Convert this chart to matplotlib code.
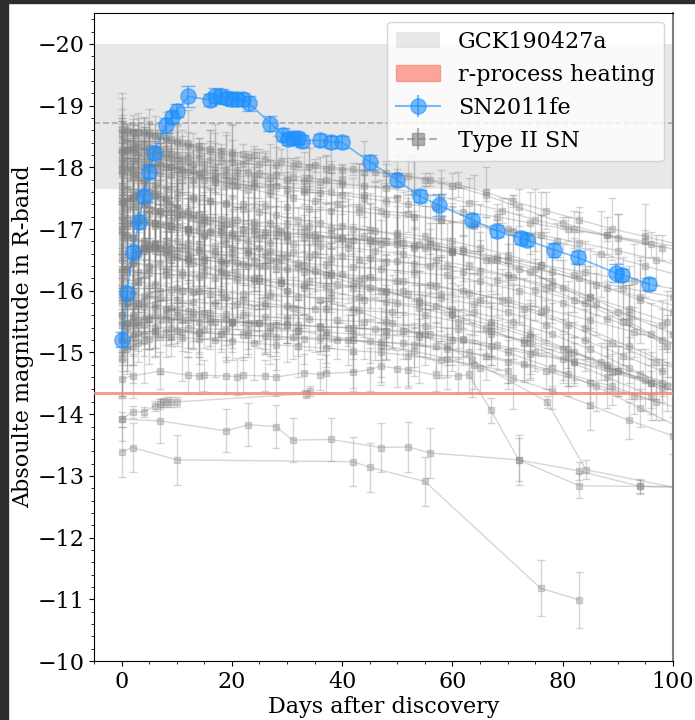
import matplotlib
matplotlib.use("Agg")
import matplotlib.pyplot as plt
from matplotlib.patches import Patch, Rectangle
from matplotlib.ticker import MultipleLocator

plt.rcParams["font.family"] = ["DejaVu Serif"]

# ---------------- SN2011fe R-band light curve ----------------
fe_day = [0.05, 1.0, 2.0, 3.1, 4.0, 5.0, 5.9, 8.05, 9.1, 10.05, 12.05,
          16.1, 17.0, 18.1, 19.1, 20.1, 21.0, 22.1, 23.1,
          27.0, 29.2, 30.2, 31.0, 32.0, 32.7, 36.0, 38.0, 39.9,
          45.1, 49.9, 54.1, 57.5, 63.6, 68.1, 72.5, 73.6, 78.5, 82.7,
          89.6, 90.7, 95.7]
fe_mag = [-15.21, -15.96, -16.62, -17.12, -17.54, -17.93, -18.24, -18.68, -18.82, -18.92, -19.15,
          -19.09, -19.16, -19.15, -19.12, -19.10, -19.10, -19.10, -19.04,
          -18.71, -18.53, -18.46, -18.48, -18.48, -18.43, -18.44, -18.41, -18.41,
          -18.08, -17.80, -17.53, -17.39, -17.15, -16.97, -16.85, -16.82, -16.66, -16.54,
          -16.29, -16.26, -16.11]
fe_err = [0.12, 0.1, 0.1, 0.1, 0.1, 0.1, 0.1, 0.12, 0.1, 0.1, 0.17,
          0.1, 0.12, 0.12, 0.1, 0.1, 0.1, 0.1, 0.12,
          0.12, 0.1, 0.1, 0.1, 0.1, 0.1, 0.1, 0.1, 0.1,
          0.12, 0.1, 0.1, 0.18, 0.1, 0.1, 0.1, 0.1, 0.12, 0.1,
          0.15, 0.1, 0.1]

# ---------------- Type II SN light curves (R band) ----------------
u1_day = [0, 1, 2, 3, 4, 5, 6, 8, 10, 12, 14, 16, 18, 20, 23, 26, 29, 32, 35, 38, 42, 46, 50, 55, 60, 66, 72, 80, 88, 96, 104]
u1_mag = [-18.62, -18.6, -18.58, -18.57, -18.55, -18.52, -18.5, -18.45, -18.4, -18.35, -18.3, -18.26, -18.22, -18.2,
          -18.17, -18.13, -18.1, -18.06, -18.03, -18.0, -17.97, -17.93, -17.88, -17.8, -17.7, -17.55, -17.35, -17.1,
          -16.9, -16.75, -16.6]
u1_err = [0.5, 0.1, 0.1, 0.15, 0.1, 0.1, 0.1, 0.1, 0.3, 0.1, 0.1, 0.35, 0.1, 0.1, 0.1, 0.1, 0.2, 0.1, 0.1, 0.1,
          0.1, 0.15, 0.1, 0.1, 0.2, 0.1, 0.3, 0.1, 0.1, 0.2, 0.1]

u2_day = [0, 1.5, 3, 5, 7, 9, 11, 13, 15, 17, 19, 21, 24, 27, 30, 33, 36, 40, 44, 48, 52, 57, 62, 68, 74, 81, 88, 95, 102]
u2_mag = [-18.05, -18.0, -17.98, -17.95, -17.9, -17.88, -17.85, -17.8, -17.8, -17.76, -17.75, -17.72, -17.7, -17.68,
          -17.65, -17.6, -17.58, -17.55, -17.5, -17.45, -17.4, -17.35, -17.28, -17.2, -17.1, -17.0, -16.9, -16.8, -16.7]
u2_err = [0.6, 0.2, 0.4, 0.1, 0.5, 0.2, 0.3, 0.1, 0.6, 0.2, 0.1, 0.4, 0.2, 0.1, 0.5, 0.2, 0.1, 0.3, 0.2, 0.6,
          0.1, 0.2, 0.4, 0.1, 0.5, 0.2, 0.3, 0.6, 0.2]

u3_day = [0, 2, 4, 6, 8, 10, 13, 16, 19, 22, 25, 28, 32, 36, 40, 45, 50, 56, 62, 70, 78, 86, 94, 103]
u3_mag = [-17.9, -17.85, -17.8, -17.72, -17.65, -17.6, -17.52, -17.45, -17.4, -17.33, -17.28, -17.22, -17.15, -17.1,
          -17.05, -16.98, -16.9, -16.8, -16.68, -16.5, -16.3, -16.1, -15.9, -15.7]
u3_err = [0.8, 0.3, 0.5, 0.2, 0.7, 0.3, 0.5, 0.2, 0.6, 0.3, 0.4, 0.7, 0.2, 0.5, 0.3, 0.6, 0.3, 0.2, 0.7, 0.4,
          0.3, 0.5, 0.6, 0.3]

u4_day = [0, 1, 2, 3, 5, 7, 9, 11, 14, 17, 20, 23, 27, 31, 35, 39, 43, 47, 52, 58, 64, 71, 79, 87, 95, 103]
u4_mag = [-18.3, -18.28, -18.25, -18.2, -18.15, -18.08, -18.0, -17.95, -17.87, -17.8, -17.72, -17.65, -17.58, -17.5,
          -17.45, -17.4, -17.35, -17.3, -17.25, -17.15, -17.05, -16.95, -16.8, -16.6, -16.4, -16.2]
u4_err = [0.9, 0.4, 0.6, 0.3, 0.8, 0.5, 0.7, 0.3, 0.6, 0.9, 0.4, 0.5, 0.8, 0.3, 0.6, 0.4, 0.7, 0.5, 0.3, 0.8,
          0.4, 0.6, 0.3, 0.7, 0.5, 0.4]

s4_day = [0, 2, 4, 6, 8, 10, 12, 14, 17, 20, 24, 28, 33, 38, 44, 50]
s4_mag = [-17.95, -17.98, -18.0, -18.02, -18.0, -17.97, -17.93, -17.9, -17.85, -17.8, -17.75, -17.7, -17.65,
          -17.6, -17.55, -17.5]
s4_err = [1.0, 0.5, 0.8, 0.4, 0.9, 0.6, 1.0, 0.5, 0.7, 0.9, 0.4, 0.8, 0.6, 0.9, 0.5, 0.7]

m1_day = [0, 2, 4, 7, 10, 14, 18, 22, 26, 30, 35, 40, 45, 50, 55, 60, 66, 72, 78, 85, 92, 100]
m1_mag = [-17.5, -17.45, -17.4, -17.3, -17.2, -17.1, -17.05, -17.0, -16.95, -16.92, -16.9, -16.85, -16.8, -16.75,
          -16.7, -16.62, -16.5, -16.35, -16.15, -15.9, -15.6, -15.3]
m1_err = [1.0, 0.6, 0.9, 0.5, 0.8, 1.1, 0.6, 0.9, 0.5, 1.0, 0.7, 0.9, 0.6, 0.8, 1.0, 0.5, 0.7, 0.9, 0.6, 0.8, 0.5, 0.7]

m2_day = [0, 3, 6, 9, 12, 15, 19, 23, 27, 31, 36, 41, 46, 51, 57, 63, 70, 77, 84, 91, 99]
m2_mag = [-17.2, -17.15, -17.05, -17.0, -16.95, -16.9, -16.85, -16.8, -16.78, -16.75, -16.72, -16.7, -16.65, -16.6,
          -16.5, -16.4, -16.25, -16.05, -15.8, -15.5, -15.1]
m2_err = [1.2, 0.7, 1.0, 0.6, 0.9, 0.7, 1.1, 0.6, 0.8, 1.0, 0.6, 0.9, 0.7, 1.0, 0.6, 0.8, 0.5, 0.9, 0.6, 0.7, 0.5]

m3_day = [0, 1, 2, 4, 6, 8, 11, 14, 17, 20, 24, 28, 32, 37, 42, 47, 53, 59, 65, 72, 80, 88, 96, 104]
m3_mag = [-16.9, -16.88, -16.85, -16.8, -16.75, -16.72, -16.7, -16.65, -16.6, -16.55, -16.5, -16.48, -16.45, -16.42,
          -16.38, -16.35, -16.3, -16.25, -16.15, -16.0, -15.8, -15.55, -15.3, -15.0]
m3_err = [1.0, 0.5, 0.8, 0.6, 1.0, 0.5, 0.9, 0.6, 0.8, 1.0, 0.5, 0.9, 0.6, 1.0, 0.7, 0.5, 0.9, 0.6, 0.8, 0.5, 0.7,
          0.6, 0.5, 0.4]

m4_day = [0, 2, 5, 8, 11, 15, 19, 24, 29, 34, 39, 45, 51, 58, 65, 73, 81, 89, 97, 105]
m4_mag = [-16.5, -16.45, -16.4, -16.35, -16.3, -16.28, -16.25, -16.2, -16.18, -16.15, -16.1, -16.05, -16.0, -15.95,
          -15.85, -15.7, -15.45, -15.15, -14.85, -14.6]
m4_err = [0.9, 0.6, 0.9, 0.5, 0.8, 0.6, 0.9, 0.5, 0.8, 0.6, 0.9, 0.5, 0.7, 0.6, 0.8, 0.5, 0.7, 0.5, 0.6, 0.4]

m5_day = [0, 3, 6, 10, 14, 18, 22, 27, 32, 38, 44, 50, 57, 64, 71, 78, 85, 92, 99]
m5_mag = [-16.2, -16.15, -16.1, -16.05, -16.0, -15.98, -15.95, -15.92, -15.9, -15.88, -15.85, -15.8, -15.75, -15.65,
          -15.5, -15.3, -15.05, -14.75, -14.45]
m5_err = [0.8, 0.5, 0.7, 0.5, 0.8, 0.6, 0.5, 0.7, 0.5, 0.8, 0.6, 0.5, 0.7, 0.5, 0.6, 0.5, 0.7, 0.5, 0.4]

m6_day = [0, 1, 3, 5, 8, 11, 15, 19, 24, 29, 34, 40, 46, 53, 60, 68, 76, 84, 93, 102]
m6_mag = [-17.7, -17.65, -17.55, -17.45, -17.35, -17.25, -17.15, -17.08, -17.0, -16.95, -16.9, -16.85, -16.8, -16.72,
          -16.65, -16.55, -16.42, -16.3, -16.15, -16.0]
m6_err = [1.1, 0.5, 0.9, 0.6, 1.0, 0.5, 0.8, 0.6, 1.0, 0.5, 0.8, 0.6, 0.9, 0.5, 0.7, 0.6, 0.8, 0.5, 0.6, 0.5]

m7_day = [0, 2, 4, 7, 10, 13, 17, 21, 26, 31, 37, 43, 49, 55, 61, 67, 74, 81, 88, 95, 103]
m7_mag = [-16.0, -15.95, -15.92, -15.88, -15.85, -15.82, -15.8, -15.78, -15.75, -15.72, -15.7, -15.68, -15.65, -15.6,
          -15.5, -15.35, -15.15, -14.95, -14.75, -14.55, -14.3]
m7_err = [0.7, 0.5, 0.6, 0.4, 0.7, 0.5, 0.6, 0.4, 0.7, 0.5, 0.6, 0.4, 0.6, 0.5, 0.6, 0.4, 0.6, 0.5, 0.4, 0.5, 0.4]

m8_day = [0, 1, 3, 6, 9, 12, 16, 20, 25, 30, 35, 41, 47, 53, 60, 67, 75, 83, 91, 100]
m8_mag = [-17.0, -17.05, -17.1, -17.1, -17.05, -17.0, -16.95, -16.9, -16.85, -16.82, -16.8, -16.78, -16.75, -16.7,
          -16.62, -16.5, -16.35, -16.2, -16.05, -15.9]
m8_err = [0.9, 0.5, 0.8, 0.4, 0.7, 0.5, 0.9, 0.4, 0.6, 0.8, 0.5, 0.7, 0.4, 0.6, 0.8, 0.5, 0.6, 0.4, 0.5, 0.6]

m9_day = [0, 2, 4, 6, 9, 12, 15, 19, 23, 28, 33, 38, 44, 50, 56, 62, 69, 76, 84, 92, 101]
m9_mag = [-16.7, -16.72, -16.7, -16.65, -16.6, -16.55, -16.5, -16.45, -16.4, -16.35, -16.3, -16.25, -16.2, -16.15,
          -16.1, -16.0, -15.85, -15.65, -15.4, -15.1, -14.75]
m9_err = [0.8, 0.6, 0.9, 0.5, 0.8, 0.5, 0.7, 0.6, 0.9, 0.5, 0.7, 0.6, 0.8, 0.5, 0.7, 0.6, 0.5, 0.7, 0.5, 0.6, 0.4]

a1_day = [0, 1, 2, 3, 4, 5, 6, 7, 8, 9, 10, 12, 14, 16, 18, 20, 22, 25, 28, 31, 34, 37, 40, 44, 48, 52, 56,
          61, 66, 71, 77, 83, 89, 95, 101]
a1_mag = [-18.45, -18.43, -18.4, -18.38, -18.36, -18.33, -18.3, -18.28, -18.25, -18.22, -18.2, -18.17, -18.14,
          -18.12, -18.1, -18.08, -18.06, -18.05, -18.03, -18.02, -18.0, -17.98, -17.96, -17.93, -17.9, -17.86, -17.8,
          -17.72, -17.6, -17.45, -17.3, -17.15, -17.0, -16.88, -16.75]
a1_err = [0.3, 0.2, 0.1, 0.5, 0.2, 0.1, 0.4, 0.2, 0.3, 0.1, 0.5, 0.2, 0.1, 0.3, 0.2, 0.6, 0.1, 0.2, 0.3, 0.1,
          0.4, 0.2, 0.1, 0.5, 0.2, 0.3, 0.1, 0.2, 0.4, 0.1, 0.3, 0.2, 0.5, 0.1, 0.2]

a2_day = [0, 1, 2, 3, 4, 5, 7, 9, 11, 13, 15, 17, 19, 21, 24, 27, 30, 33, 36, 40, 44, 48, 53, 58, 63,
          69, 75, 82, 90, 98]
a2_mag = [-18.15, -18.12, -18.1, -18.1, -18.08, -18.05, -18.02, -18.0, -17.97, -17.95, -17.92, -17.9, -17.88,
          -17.86, -17.84, -17.82, -17.8, -17.78, -17.76, -17.73, -17.7, -17.66, -17.6, -17.52, -17.42,
          -17.3, -17.15, -17.0, -16.85, -16.7]
a2_err = [0.6, 0.3, 0.5, 0.2, 0.4, 0.7, 0.3, 0.5, 0.2, 0.6, 0.4, 0.3, 0.7, 0.2, 0.5, 0.3, 0.6, 0.2, 0.4, 0.3,
          0.5, 0.2, 0.6, 0.3, 0.4, 0.2, 0.5, 0.3, 0.4, 0.2]

a3_day = [0, 1, 2, 3, 5, 7, 9, 11, 13, 15, 18, 21, 24, 27, 30, 34, 38, 42, 46, 50, 55, 60, 65, 70, 76,
          82, 88, 94, 100]
a3_mag = [-17.3, -17.32, -17.35, -17.35, -17.33, -17.3, -17.27, -17.25, -17.22, -17.2, -17.17, -17.15, -17.12,
          -17.1, -17.08, -17.05, -17.02, -17.0, -16.97, -16.93, -16.88, -16.8, -16.7, -16.58, -16.42,
          -16.25, -16.05, -15.85, -15.65]
a3_err = [1.0, 0.5, 0.8, 0.4, 0.9, 0.6, 1.0, 0.5, 0.7, 0.9, 0.4, 0.8, 0.6, 1.0, 0.5, 0.7, 0.9, 0.4, 0.8, 0.6,
          0.5, 0.9, 0.7, 0.4, 0.8, 0.6, 0.5, 0.7, 0.4]

a4_day = [0, 1, 2, 4, 6, 8, 10, 12, 15, 18, 21, 25, 29, 33, 38, 43, 48, 54, 60, 67, 74, 82, 90, 98]
a4_mag = [-16.95, -16.9, -16.85, -16.78, -16.7, -16.62, -16.55, -16.48, -16.4, -16.33, -16.27, -16.2, -16.12,
          -16.05, -15.98, -15.9, -15.82, -15.72, -15.6, -15.45, -15.25, -15.0, -14.7, -14.4]
a4_err = [0.9, 0.6, 0.8, 0.5, 1.0, 0.6, 0.8, 0.5, 0.9, 0.6, 0.7, 0.5, 0.9, 0.6, 0.8, 0.5, 0.7, 0.6, 0.8, 0.5,
          0.6, 0.5, 0.4, 0.5]

a5_day = [0, 2, 3, 5, 7, 9, 12, 14, 17, 20, 23, 26, 30, 34, 38, 43, 48, 53, 59, 65, 71, 78, 85, 92, 99]
a5_mag = [-16.6, -16.62, -16.65, -16.68, -16.7, -16.7, -16.68, -16.66, -16.64, -16.62, -16.6, -16.58, -16.56,
          -16.54, -16.52, -16.5, -16.47, -16.44, -16.4, -16.32, -16.22, -16.08, -15.9, -15.7, -15.5]
a5_err = [0.8, 0.5, 0.9, 0.6, 0.7, 1.0, 0.5, 0.8, 0.6, 0.9, 0.5, 0.7, 1.0, 0.6, 0.8, 0.5, 0.9, 0.6, 0.7, 0.5,
          0.8, 0.6, 0.5, 0.7, 0.5]

a6_day = [0, 1, 3, 5, 8, 11, 14, 17, 21, 25, 29, 33, 37, 42, 47, 52, 58, 64, 70, 77, 84, 91, 98]
a6_mag = [-16.35, -16.33, -16.3, -16.28, -16.27, -16.25, -16.22, -16.2, -16.18, -16.15, -16.12, -16.1, -16.08,
          -16.05, -16.0, -15.95, -15.88, -15.78, -15.65, -15.45, -15.2, -14.95, -14.7]
a6_err = [0.7, 0.5, 0.8, 0.4, 0.7, 0.5, 0.9, 0.4, 0.6, 0.8, 0.5, 0.7, 0.4, 0.8, 0.5, 0.6, 0.7, 0.5, 0.6, 0.4,
          0.5, 0.6, 0.4]

a7_day = [0, 1, 2, 3, 4, 6, 8, 10, 13, 16, 19, 22, 26, 30, 34, 39, 44, 49, 55, 61, 67, 73, 80, 87, 94, 101]
a7_mag = [-15.8, -15.78, -15.76, -15.75, -15.74, -15.72, -15.7, -15.68, -15.66, -15.64, -15.62, -15.6, -15.58,
          -15.56, -15.54, -15.52, -15.5, -15.47, -15.43, -15.38, -15.3, -15.2, -15.05, -14.85, -14.65, -14.45]
a7_err = [0.6, 0.4, 0.5, 0.3, 0.6, 0.4, 0.5, 0.3, 0.6, 0.4, 0.5, 0.3, 0.6, 0.4, 0.5, 0.3, 0.6, 0.4, 0.5, 0.3,
          0.5, 0.4, 0.5, 0.3, 0.4, 0.3]

a8_day = [0, 1, 2, 3, 5, 7, 9, 11, 14, 17, 20, 24, 28, 32, 36, 41, 46, 51, 56, 62, 68, 75, 82, 89, 96, 103]
a8_mag = [-15.45, -15.47, -15.5, -15.52, -15.55, -15.55, -15.53, -15.52, -15.5, -15.5, -15.48, -15.47, -15.45,
          -15.44, -15.42, -15.4, -15.38, -15.35, -15.3, -15.22, -15.12, -15.0, -14.85, -14.68, -14.5, -14.3]
a8_err = [0.5, 0.3, 0.4, 0.3, 0.5, 0.3, 0.4, 0.3, 0.5, 0.3, 0.4, 0.3, 0.5, 0.3, 0.4, 0.3, 0.5, 0.3, 0.4, 0.3,
          0.4, 0.3, 0.4, 0.3, 0.4, 0.3]

a9_day = [0, 2, 4, 6, 8, 11, 14, 18, 22, 26, 31, 36, 41, 47, 53, 59, 66, 73, 81, 89, 97]
a9_mag = [-15.2, -15.25, -15.3, -15.32, -15.33, -15.33, -15.32, -15.3, -15.28, -15.27, -15.25, -15.23, -15.2,
          -15.17, -15.12, -15.05, -14.95, -14.82, -14.65, -14.45, -14.2]
a9_err = [0.4, 0.3, 0.35, 0.25, 0.4, 0.3, 0.35, 0.25, 0.4, 0.3, 0.35, 0.25, 0.4, 0.3, 0.35, 0.25, 0.4, 0.3, 0.35,
          0.3, 0.3]

a10_day = [0, 2, 4, 6, 9, 12, 15, 19, 23, 27, 32, 37, 42, 48, 54, 60, 67, 74, 81, 88, 96]
a10_mag = [-17.6, -17.5, -17.4, -17.3, -17.15, -17.0, -16.88, -16.75, -16.62, -16.5, -16.38, -16.25, -16.12,
           -15.98, -15.85, -15.7, -15.5, -15.3, -15.05, -14.8, -14.5]
a10_err = [1.0, 0.6, 0.8, 0.5, 0.9, 0.6, 0.8, 0.5, 0.9, 0.6, 0.7, 0.5, 0.8, 0.6, 0.7, 0.5, 0.6, 0.5, 0.6, 0.4, 0.5]

a11_day = [0, 1, 2, 3, 4, 5, 6, 7, 8, 9, 10, 11, 12, 14, 16, 18, 20, 22, 24]
a11_mag = [-18.55, -18.57, -18.58, -18.58, -18.57, -18.55, -18.53, -18.5, -18.47, -18.45, -18.42, -18.4, -18.37,
           -18.33, -18.3, -18.27, -18.24, -18.22, -18.2]
a11_err = [0.3, 0.15, 0.2, 0.1, 0.25, 0.15, 0.3, 0.1, 0.2, 0.15, 0.25, 0.1, 0.2, 0.15, 0.3, 0.1, 0.2, 0.15, 0.1]

a12_day = [0, 1, 2, 3, 4, 5, 6, 7, 8, 9, 10, 12, 14, 16, 18, 20, 22, 24, 26, 28, 30, 33, 36, 39, 42, 45, 48,
           51, 54, 57, 60]
a12_mag = [-17.05, -17.08, -17.1, -17.12, -17.13, -17.12, -17.1, -17.08, -17.06, -17.05, -17.03, -17.0, -16.98,
           -16.97, -16.95, -16.94, -16.93, -16.92, -16.9, -16.9, -16.88, -16.87, -16.86, -16.85, -16.83, -16.82,
           -16.8, -16.78, -16.75, -16.72, -16.68]
a12_err = [1.2, 0.6, 1.0, 0.5, 0.9, 0.7, 1.1, 0.5, 0.8, 0.6, 1.0, 0.5, 0.9, 0.7, 1.1, 0.6, 0.8, 0.5, 1.0, 0.6,
           0.9, 0.5, 0.8, 0.7, 1.0, 0.6, 0.9, 0.5, 0.8, 0.6, 0.7]

b1_day = [0, 1, 2, 3, 4, 6, 8, 10, 12, 15, 18, 21, 25, 29, 33, 38, 43, 48, 54, 60, 66, 73, 80, 88, 96]
b1_mag = [-18.0, -17.95, -17.9, -17.82, -17.75, -17.6, -17.48, -17.35, -17.25, -17.1, -16.98, -16.85, -16.7,
          -16.55, -16.42, -16.28, -16.15, -16.0, -15.82, -15.62, -15.4, -15.15, -14.9, -14.6, -14.3]
b1_err = [0.8, 0.5, 0.7, 0.4, 0.9, 0.5, 0.7, 0.4, 0.8, 0.6, 0.9, 0.5, 0.7, 0.4, 0.8, 0.5, 0.7, 0.6, 0.5, 0.7,
          0.5, 0.6, 0.4, 0.5, 0.4]

b2_day = [0, 1, 2, 3, 4, 5, 6, 8, 10, 12, 14, 17, 20, 23, 27, 31, 35, 40, 45, 50, 56, 62, 68, 75, 82, 90, 98]
b2_mag = [-16.1, -16.3, -16.45, -16.6, -16.7, -16.75, -16.78, -16.8, -16.8, -16.78, -16.75, -16.72, -16.7, -16.68,
          -16.65, -16.62, -16.6, -16.57, -16.53, -16.48, -16.4, -16.3, -16.18, -16.02, -15.85, -15.65, -15.45]
b2_err = [1.0, 0.6, 0.9, 0.5, 1.1, 0.7, 0.9, 0.5, 1.0, 0.6, 0.8, 1.0, 0.5, 0.9, 0.7, 1.0, 0.6, 0.8, 0.5, 0.9,
          0.7, 0.6, 0.8, 0.5, 0.6, 0.5, 0.4]

b3_day = [0, 2, 4, 6, 8, 10, 13, 16, 19, 22, 26, 30, 34, 38, 43, 48, 53, 58, 64, 70, 76, 83, 90, 97, 104]
b3_mag = [-17.45, -17.5, -17.52, -17.53, -17.52, -17.5, -17.48, -17.45, -17.42, -17.4, -17.37, -17.35, -17.32,
          -17.3, -17.27, -17.24, -17.2, -17.15, -17.08, -17.0, -16.9, -16.78, -16.65, -16.5, -16.35]
b3_err = [1.1, 0.6, 0.9, 0.5, 1.0, 0.6, 0.9, 0.5, 1.1, 0.7, 0.9, 0.5, 1.0, 0.6, 0.8, 0.5, 0.9, 0.6, 0.8, 0.5,
          0.7, 0.5, 0.6, 0.4, 0.5]

b4_day = [0, 1, 2, 4, 6, 9, 12, 15, 19, 23, 27, 32, 37, 42, 47, 53, 59, 65, 71, 78, 85, 92, 100]
b4_mag = [-15.9, -15.88, -15.85, -15.82, -15.78, -15.72, -15.67, -15.62, -15.55, -15.48, -15.42, -15.35, -15.28,
          -15.2, -15.12, -15.02, -14.9, -14.75, -14.58, -14.38, -14.15, -13.9, -13.65]
b4_err = [0.7, 0.5, 0.6, 0.4, 0.7, 0.5, 0.6, 0.4, 0.7, 0.5, 0.6, 0.4, 0.6, 0.5, 0.6, 0.4, 0.5, 0.4, 0.5, 0.3,
          0.4, 0.3, 0.3]

b5_day = [0, 0.5, 1, 1.5, 2, 2.5, 3, 4, 5, 6, 7, 8, 9, 10, 11, 12, 13, 15, 17, 19, 21, 23, 25, 28, 31, 34, 37, 40]
b5_mag = [-18.25, -18.27, -18.28, -18.3, -18.3, -18.31, -18.3, -18.28, -18.25, -18.22, -18.2, -18.17, -18.15,
          -18.12, -18.1, -18.08, -18.06, -18.03, -18.0, -17.97, -17.95, -17.92, -17.9, -17.88, -17.85, -17.83,
          -17.8, -17.78]
b5_err = [0.5, 0.2, 0.3, 0.15, 0.4, 0.2, 0.5, 0.15, 0.3, 0.2, 0.4, 0.15, 0.3, 0.2, 0.5, 0.15, 0.3, 0.2, 0.4, 0.15,
          0.3, 0.2, 0.4, 0.15, 0.3, 0.2, 0.4, 0.2]

b6_day = [0, 1, 2, 3, 5, 7, 9, 12, 15, 18, 22, 26, 30, 35, 40, 45, 51, 57, 63, 70, 77, 85, 93, 101]
b6_mag = [-15.6, -15.8, -16.0, -16.15, -16.35, -16.45, -16.5, -16.52, -16.5, -16.47, -16.43, -16.4, -16.36,
          -16.32, -16.27, -16.22, -16.15, -16.07, -15.97, -15.85, -15.7, -15.52, -15.33, -15.12]
b6_err = [0.9, 0.6, 0.8, 0.5, 1.0, 0.6, 0.8, 0.5, 0.9, 0.6, 0.7, 0.5, 0.9, 0.6, 0.8, 0.5, 0.7, 0.6, 0.5, 0.6,
          0.5, 0.6, 0.4, 0.4]

b7_day = [0, 1, 3, 5, 7, 10, 13, 16, 20, 24, 28, 33, 38, 44, 50, 56, 62, 68, 74, 80, 86, 92, 98]
b7_mag = [-17.15, -17.18, -17.22, -17.25, -17.25, -17.22, -17.18, -17.14, -17.1, -17.06, -17.02, -16.98, -16.93,
          -16.88, -16.82, -16.75, -16.65, -16.5, -16.3, -16.05, -15.78, -15.5, -15.2]
b7_err = [1.1, 0.6, 1.0, 0.5, 0.9, 0.7, 1.1, 0.5, 0.8, 1.0, 0.6, 0.9, 0.5, 1.0, 0.7, 0.8, 0.5, 0.9, 0.6, 0.7,
          0.5, 0.6, 0.5]

b8_day = [0, 1, 2, 3, 4, 5, 7, 9, 11, 14, 17, 20, 24, 28, 32, 37, 42, 47, 52, 58, 64, 70]
b8_mag = [-15.0, -15.05, -15.1, -15.15, -15.2, -15.22, -15.25, -15.25, -15.24, -15.22, -15.2, -15.18, -15.15,
          -15.12, -15.1, -15.07, -15.03, -15.0, -14.95, -14.88, -14.8, -14.7]
b8_err = [0.7, 0.4, 0.6, 0.3, 0.7, 0.4, 0.6, 0.3, 0.7, 0.4, 0.6, 0.3, 0.6, 0.4, 0.5, 0.3, 0.6, 0.4, 0.5, 0.3,
          0.4, 0.3]

l4_day = [0, 4, 8, 13, 18, 24, 30, 36, 42, 48, 54, 59, 63.5, 77.2, 84.2, 101]
l4_mag = [-16.8, -16.7, -16.6, -16.45, -16.3, -16.15, -16.0, -15.85, -15.7, -15.5, -15.3, -15.1, -14.88, -14.2,
          -13.1, -12.8]
l4_err = [0.8, 0.5, 0.7, 0.5, 0.6, 0.8, 0.5, 0.7, 0.5, 0.6, 0.8, 0.5, 0.6, 0.1, 0.15, 0.1]

s1_day = [0, 0.5, 1, 1.5, 2, 3, 4, 5, 6, 7, 8, 9, 10, 12, 14]
s1_mag = [-17.4, -17.42, -17.45, -17.5, -17.55, -17.6, -17.62, -17.6, -17.55, -17.5, -17.45, -17.4, -17.35, -17.3,
          -17.25]
s1_err = [1.2, 0.6, 0.9, 0.5, 1.0, 0.6, 0.8, 1.1, 0.5, 0.9, 0.6, 1.0, 0.7, 0.9, 0.6]

s2_day = [0, 1, 2, 3, 4, 5, 6, 7, 8, 10, 12, 15, 18, 21, 25]
s2_mag = [-16.3, -16.4, -16.5, -16.6, -16.65, -16.7, -16.72, -16.7, -16.68, -16.65, -16.6, -16.55, -16.5, -16.45,
          -16.4]
s2_err = [1.0, 0.7, 0.9, 0.5, 1.1, 0.6, 0.9, 0.7, 1.0, 0.5, 0.8, 1.0, 0.6, 0.9, 0.7]

s3_day = [0, 1, 2, 3, 5, 7, 9, 11, 13, 16, 19, 22, 26, 30, 35]
s3_mag = [-15.2, -15.4, -15.6, -15.8, -15.95, -16.0, -16.02, -16.0, -15.98, -15.95, -15.9, -15.85, -15.8, -15.75,
          -15.7]
s3_err = [0.9, 0.6, 0.8, 0.5, 0.9, 0.6, 0.8, 0.5, 0.9, 0.6, 0.7, 0.5, 0.8, 0.6, 0.7]

s5_day = [0, 1, 2, 3, 4, 6, 8, 10, 13, 16, 20, 25, 30]
s5_mag = [-14.9, -15.1, -15.3, -15.45, -15.55, -15.6, -15.62, -15.6, -15.58, -15.55, -15.5, -15.48, -15.45]
s5_err = [0.6, 0.4, 0.5, 0.3, 0.5, 0.4, 0.5, 0.3, 0.4, 0.5, 0.3, 0.4, 0.3]

w1_day = [0, 1, 2, 4, 6, 9, 12, 15, 19, 23, 27, 32, 37, 42, 48, 54, 60, 67, 74, 82, 90, 98, 106]
w1_mag = [-15.5, -15.48, -15.45, -15.45, -15.42, -15.4, -15.4, -15.38, -15.38, -15.36, -15.35, -15.35, -15.33,
          -15.3, -15.28, -15.25, -15.2, -15.1, -14.98, -14.85, -14.7, -14.5, -14.3]
w1_err = [0.5, 0.3, 0.4, 0.3, 0.5, 0.3, 0.4, 0.3, 0.5, 0.3, 0.4, 0.3, 0.5, 0.3, 0.4, 0.3, 0.5, 0.3, 0.4, 0.3, 0.4,
          0.3, 0.3]

w2_day = [0, 3, 6, 10, 14, 18, 23, 28, 33, 39, 45, 51, 57, 63, 70, 77, 85, 93, 101]
w2_mag = [-15.3, -15.32, -15.35, -15.35, -15.33, -15.3, -15.28, -15.25, -15.22, -15.2, -15.18, -15.15, -15.1, -15.0,
          -14.85, -14.7, -14.5, -14.3, -14.1]
w2_err = [0.4, 0.3, 0.4, 0.25, 0.4, 0.3, 0.35, 0.25, 0.4, 0.3, 0.35, 0.25, 0.4, 0.3, 0.35, 0.3, 0.4, 0.3, 0.3]

w3_day = [0, 2, 5, 8, 12, 16, 20, 25, 30, 36, 42, 48, 55, 62, 70, 78, 86, 94, 102]
w3_mag = [-15.6, -15.58, -15.55, -15.55, -15.52, -15.5, -15.5, -15.48, -15.45, -15.42, -15.4, -15.35, -15.3, -15.2,
          -15.0, -14.75, -14.45, -14.1, -13.75]
w3_err = [0.6, 0.4, 0.5, 0.3, 0.6, 0.4, 0.5, 0.3, 0.6, 0.4, 0.5, 0.3, 0.5, 0.4, 0.5, 0.3, 0.4, 0.3, 0.3]

l1_day = [0, 2, 7, 12, 14, 15, 19, 21, 22, 26, 28, 33, 36, 37, 42, 45, 47, 50, 52, 57, 61, 63, 67, 72, 83, 94, 105]
l1_mag = [-14.57, -14.62, -14.7, -14.63, -14.62, -14.63, -14.62, -14.61, -14.63, -14.62, -14.6, -14.67, -14.64,
          -14.66, -14.68, -14.72, -14.78, -14.74, -14.72, -14.63, -14.62, -14.64, -14.06, -13.26, -12.84, -12.83, -12.83]
l1_err = [0.3, 0.35, 0.3, 0.3, 0.3, 0.25, 0.3, 0.3, 0.3, 0.25, 0.3, 0.3, 0.25, 0.3, 0.3, 0.35, 0.3, 0.3, 0.3,
          0.25, 0.3, 0.3, 0.2, 0.35, 0.2, 0.1, 0.1]

l2_day = [0, 2, 10, 42, 45, 55, 76, 83]
l2_mag = [-13.39, -13.46, -13.26, -13.23, -13.14, -12.91, -11.18, -10.99]
l2_err = [0.4, 0.4, 0.4, 0.4, 0.4, 0.4, 0.45, 0.45]

l3_day = [0, 7, 19, 23, 28, 31, 38, 47, 52, 56, 72, 83, 94, 105]
l3_mag = [-13.92, -13.89, -13.73, -13.83, -13.80, -13.58, -13.59, -13.46, -13.47, -13.37, -13.26, -13.08, -12.83,
          -12.80]
l3_err = [0.35, 0.35, 0.35, 0.35, 0.35, 0.35, 0.35, 0.4, 0.4, 0.4, 0.4, 0.15, 0.12, 0.1]

l5_day = [0, 2, 4, 6, 7, 7.5, 8.3, 9, 10, 33.5, 34.2]
l5_mag = [-13.92, -14.04, -14.04, -14.13, -14.16, -14.19, -14.2, -14.2, -14.2, -14.33, -14.37]
l5_err = [0.12, 0.1, 0.08, 0.08, 0.08, 0.08, 0.08, 0.08, 0.08, 0.06, 0.08]

type2_curves = [
    (u1_day, u1_mag, u1_err), (u2_day, u2_mag, u2_err), (u3_day, u3_mag, u3_err),
    (u4_day, u4_mag, u4_err), (s4_day, s4_mag, s4_err), (m1_day, m1_mag, m1_err),
    (m2_day, m2_mag, m2_err), (m3_day, m3_mag, m3_err), (m4_day, m4_mag, m4_err),
    (m5_day, m5_mag, m5_err), (m6_day, m6_mag, m6_err), (m7_day, m7_mag, m7_err),
    (m8_day, m8_mag, m8_err), (m9_day, m9_mag, m9_err), (l4_day, l4_mag, l4_err),
    (a1_day, a1_mag, a1_err), (a2_day, a2_mag, a2_err), (a3_day, a3_mag, a3_err),
    (a4_day, a4_mag, a4_err), (a5_day, a5_mag, a5_err), (a6_day, a6_mag, a6_err),
    (a7_day, a7_mag, a7_err), (a8_day, a8_mag, a8_err), (a9_day, a9_mag, a9_err),
    (a10_day, a10_mag, a10_err), (a11_day, a11_mag, a11_err), (a12_day, a12_mag, a12_err),
    (b1_day, b1_mag, b1_err), (b2_day, b2_mag, b2_err), (b3_day, b3_mag, b3_err),
    (b4_day, b4_mag, b4_err), (b5_day, b5_mag, b5_err), (b6_day, b6_mag, b6_err),
    (b7_day, b7_mag, b7_err), (b8_day, b8_mag, b8_err),
    (s1_day, s1_mag, s1_err), (s2_day, s2_mag, s2_err), (s3_day, s3_mag, s3_err),
    (s5_day, s5_mag, s5_err), (w1_day, w1_mag, w1_err), (w2_day, w2_mag, w2_err),
    (w3_day, w3_mag, w3_err), (l1_day, l1_mag, l1_err), (l2_day, l2_mag, l2_err),
    (l3_day, l3_mag, l3_err), (l5_day, l5_mag, l5_err),
]
for day, mag, err in type2_curves:
    assert len(day) == len(mag) == len(err), (len(day), len(mag), len(err), day[:3])

# Reference levels
gck_range = (-20.0, -17.65)       # GCK190427a magnitude range
rprocess_level = (-14.36, -14.31)  # r-process heating limit
typeii_peak = -18.72               # brightest Type II SN

fig = plt.figure(figsize=(6.95, 7.2), dpi=100)
ax = fig.add_axes([0.1353, 0.0819, 0.8330, 0.9000])

ax.axhspan(*gck_range, color="lightgray", alpha=0.5, lw=0, zorder=0)
ax.axhspan(*rprocess_level, color="salmon", alpha=0.8, lw=0, zorder=3)
ax.axhline(typeii_peak, color="darkgray", ls="--", lw=1.2, zorder=1)

for day, mag, err in type2_curves:
    ax.errorbar(day, mag, yerr=err, fmt="s-", color="gray", alpha=0.32, ms=4.5,
                lw=1, elinewidth=1, capsize=3, zorder=2)

ax.errorbar(fe_day, fe_mag, yerr=fe_err, fmt="o-", color="dodgerblue", alpha=0.6,
            ms=11, lw=1.2, elinewidth=1.2, capsize=5, zorder=4)

ax.set_xlim(-5, 100)
ax.set_ylim(-10, -20.5)
ax.xaxis.set_major_locator(MultipleLocator(20))
ax.xaxis.set_minor_locator(MultipleLocator(5))
ax.yaxis.set_major_locator(MultipleLocator(1))
ax.yaxis.set_minor_locator(MultipleLocator(0.2))
ax.tick_params(labelsize=16)
ax.set_xlabel("Days after discovery", fontsize=16, labelpad=2)
ax.set_ylabel("Absoulte magnitude in R-band", fontsize=16, labelpad=2)
ax.spines["right"].set_color("#808080")
ax.spines["right"].set_linewidth(1.5)

handles = [
    Patch(facecolor="lightgray", alpha=0.5),
    Patch(facecolor="salmon", edgecolor="salmon", alpha=0.7),
    ax.errorbar([], [], yerr=[], fmt="o-", color="dodgerblue", alpha=0.6, ms=11,
                capsize=5),
    ax.errorbar([], [], yerr=[], fmt="s--", color="gray", alpha=0.6, ms=8,
                capsize=5),
]
labels = ["GCK190427a", "r-process heating", "SN2011fe", "Type II SN"]
ax.legend(handles, labels, loc="upper right", fontsize=16, borderaxespad=0.4)

# dark surround along the top and left edges
fig.patches.append(Rectangle((0, 0), 8 / 695, 1, transform=fig.transFigure,
                             color="#2d2d2d", zorder=10))
fig.patches.append(Rectangle((0, 1 - 3 / 720), 1, 3 / 720, transform=fig.transFigure,
                             color="#2d2d2d", zorder=10))

fig.savefig("out.png", dpi=100)
